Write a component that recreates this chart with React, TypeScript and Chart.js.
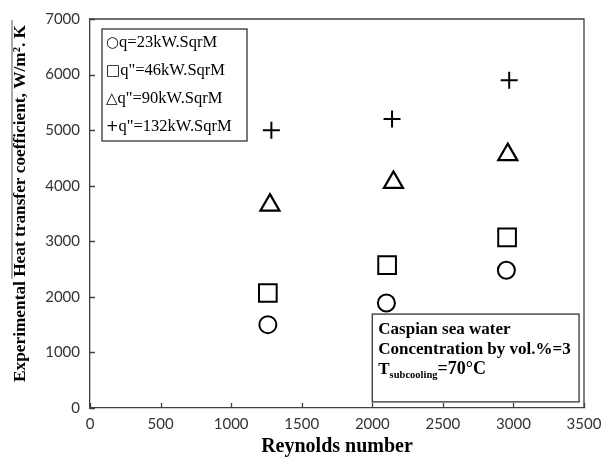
import React, { useEffect, useRef } from "react";
import { Chart, registerables } from "chart.js";

Chart.register(...registerables);

// ---- data ----
const reynoldsQ23 = [1260, 2100, 2950];
const htcQ23 = [1500, 1890, 2480];
const reynoldsQ46 = [1260, 2105, 2955];
const htcQ46 = [2070, 2570, 3070];
const reynoldsQ90 = [1275, 2150, 2960];
const htcQ90 = [3650, 4060, 4560];
const reynoldsQ132 = [1285, 2140, 2970];
const htcQ132 = [5000, 5200, 5900];

const seriesLabels = ['q=23kW.SqrM', 'q"=46kW.SqrM', 'q"=90kW.SqrM', 'q"=132kW.SqrM'];
const legendSymbols = ["○", "□", "△", "+"];
const pointStyles = ["circle", "rect", "triangle", "cross"];

const xTicks = [0, 500, 1000, 1500, 2000, 2500, 3000, 3500];
const yTicks = [0, 1000, 2000, 3000, 4000, 5000, 6000, 7000];

const xAxisTitle = "Reynolds number";
const yAxisTitleLead = "Experimental ";
const yAxisTitleRest = "Heat transfer coefficient, W/m². K";

const noteLines = ["Caspian sea water", "Concentration by vol.%=3"];
const noteTempMain = "T";
const noteTempSub = "subcooling";
const noteTempRest = "=70°C";
// note box corners in data units
const noteBoxX = [2000, 3465];
const noteBoxY = [1690, 110];

const AXIS = "#404040";
const SERIF = '"Liberation Serif", "Times New Roman", serif';
const SANS = 'Lato, "Open Sans", sans-serif';
const SYM = '"DejaVu Sans", sans-serif';

const decorPlugin = {
  id: "decor",
  afterDraw(chart: any) {
    const { ctx, chartArea: a, scales } = chart;
    const xs = scales.x;
    const ys = scales.y;
    ctx.save();

    // top and right frame
    ctx.strokeStyle = AXIS;
    ctx.lineWidth = 1.3;
    ctx.beginPath();
    ctx.moveTo(a.left, a.top);
    ctx.lineTo(a.right, a.top);
    ctx.lineTo(a.right, a.bottom);
    ctx.stroke();

    // inward tick marks
    ctx.beginPath();
    xTicks.forEach((v) => {
      const px = Math.round(xs.getPixelForValue(v)) + 0.5;
      ctx.moveTo(px, a.bottom);
      ctx.lineTo(px, a.bottom - 5);
    });
    yTicks.forEach((v) => {
      const py = Math.round(ys.getPixelForValue(v)) + 0.5;
      ctx.moveTo(a.left, py);
      ctx.lineTo(a.left + 5, py);
    });
    ctx.stroke();

    // legend box
    const lx = a.left + 12;
    const ly = a.top + 10;
    const lw = 145;
    const lh = 112;
    ctx.fillStyle = "#fff";
    ctx.fillRect(lx, ly, lw, lh);
    ctx.strokeStyle = "#333";
    ctx.lineWidth = 1.3;
    ctx.strokeRect(lx, ly, lw, lh);
    ctx.fillStyle = "#000";
    ctx.textBaseline = "middle";
    ctx.textAlign = "left";
    seriesLabels.forEach((lab, i) => {
      const y = ly + 14 + i * 28;
      ctx.font = `15px ${SYM}`;
      ctx.fillText(legendSymbols[i], lx + 4, y);
      const sw = ctx.measureText(legendSymbols[i]).width;
      ctx.font = `16.5px ${SERIF}`;
      ctx.fillText(lab, lx + 4 + sw, y);
    });

    // note box
    const nx0 = xs.getPixelForValue(noteBoxX[0]);
    const nx1 = xs.getPixelForValue(noteBoxX[1]);
    const ny0 = ys.getPixelForValue(noteBoxY[0]);
    const ny1 = ys.getPixelForValue(noteBoxY[1]);
    ctx.fillStyle = "#fff";
    ctx.fillRect(nx0, ny0, nx1 - nx0, ny1 - ny0);
    ctx.strokeStyle = "#333";
    ctx.strokeRect(nx0, ny0, nx1 - nx0, ny1 - ny0);
    ctx.fillStyle = "#000";
    ctx.textBaseline = "alphabetic";
    ctx.font = `bold 17px ${SERIF}`;
    noteLines.forEach((t, i) => {
      ctx.fillText(t, nx0 + 6, ny0 + 20 + i * 20);
    });
    let tx = nx0 + 6;
    const ty = ny0 + 60;
    ctx.font = `bold 17px ${SERIF}`;
    ctx.fillText(noteTempMain, tx, ty);
    tx += ctx.measureText(noteTempMain).width;
    ctx.font = `bold 10.5px ${SERIF}`;
    ctx.fillText(noteTempSub, tx, ty + 4);
    tx += ctx.measureText(noteTempSub).width;
    ctx.font = `bold 18px ${SERIF}`;
    ctx.fillText(noteTempRest, tx, ty);

    // y axis title (rotated)
    ctx.font = `bold 17.3px ${SERIF}`;
    const wLead = ctx.measureText(yAxisTitleLead).width;
    const wRest = ctx.measureText(yAxisTitleRest).width;
    const W = wLead + wRest;
    const cx = 21;
    const cy = (a.top + a.bottom) / 2 - 10;
    ctx.translate(cx, cy);
    ctx.rotate(-Math.PI / 2);
    ctx.textBaseline = "middle";
    ctx.textAlign = "left";
    ctx.fillText(yAxisTitleLead + yAxisTitleRest, -W / 2, 0);
    ctx.strokeStyle = "#555";
    ctx.lineWidth = 1;
    ctx.beginPath();
    ctx.moveTo(-W / 2 + wLead - 2, -9);
    ctx.lineTo(W / 2 + 5, -9);
    ctx.stroke();

    ctx.restore();
  },
};

export default function App() {
  const ref = useRef<HTMLCanvasElement | null>(null);

  useEffect(() => {
    if (!ref.current) return;
    const mk = (xs: number[], ys: number[]) => xs.map((x, i) => ({ x, y: ys[i] }));
    const series = [
      mk(reynoldsQ23, htcQ23),
      mk(reynoldsQ46, htcQ46),
      mk(reynoldsQ90, htcQ90),
      mk(reynoldsQ132, htcQ132),
    ];
    const radii = [8.5, 12.5, 11, 8.5];
    const widths = [2, 2, 2.2, 2];
    const chart = new Chart(ref.current, {
      type: "scatter",
      data: {
        datasets: series.map((d, i) => ({
          label: seriesLabels[i],
          data: d,
          pointStyle: pointStyles[i] as any,
          pointRadius: radii[i],
          pointHoverRadius: radii[i],
          pointBorderWidth: widths[i],
          borderColor: "#000",
          backgroundColor: "rgba(0,0,0,0)",
          pointBackgroundColor: "rgba(0,0,0,0)",
        })),
      },
      options: {
        animation: false,
        responsive: false,
        devicePixelRatio: 1,
        layout: { padding: { left: 0, top: 19, right: 25, bottom: 0 } },
        plugins: {
          legend: { display: false },
          tooltip: { enabled: false },
          title: { display: false },
        },
        scales: {
          x: {
            type: "linear",
            min: 0,
            max: 3500,
            afterBuildTicks: (s: any) => {
              s.ticks = xTicks.map((v) => ({ value: v }));
            },
            afterFit: (s: any) => {
              s.height = 51;
            },
            grid: { display: true, drawOnChartArea: false, drawTicks: false },
            border: { display: true, color: AXIS, width: 1.3 },
            ticks: {
              padding: 7,
              color: "#333",
              font: { family: SANS, size: 15 },
              maxRotation: 0,
              callback: (v: any) => String(v),
            },
            title: {
              display: true,
              text: xAxisTitle,
              color: "#000",
              font: { family: SERIF, size: 20, weight: "bold" },
              padding: { top: 0, bottom: 0 },
            },
          },
          y: {
            type: "linear",
            min: 0,
            max: 7000,
            afterBuildTicks: (s: any) => {
              s.ticks = yTicks.map((v) => ({ value: v }));
            },
            afterFit: (s: any) => {
              s.width = 90;
            },
            grid: { display: true, drawOnChartArea: false, drawTicks: false },
            border: { display: true, color: AXIS, width: 1.3 },
            ticks: {
              padding: 10,
              color: "#333",
              font: { family: SANS, size: 15 },
              callback: (v: any) => String(v),
            },
            title: { display: false },
          },
        },
      },
      plugins: [decorPlugin],
    });
    return () => chart.destroy();
  }, []);

  return (
    <div style={{ position: "absolute", left: 0, top: 0, width: 609, height: 459, background: "#fff" }}>
      <canvas ref={ref} width={609} height={459} style={{ width: 609, height: 459, display: "block" }} />
    </div>
  );
}
